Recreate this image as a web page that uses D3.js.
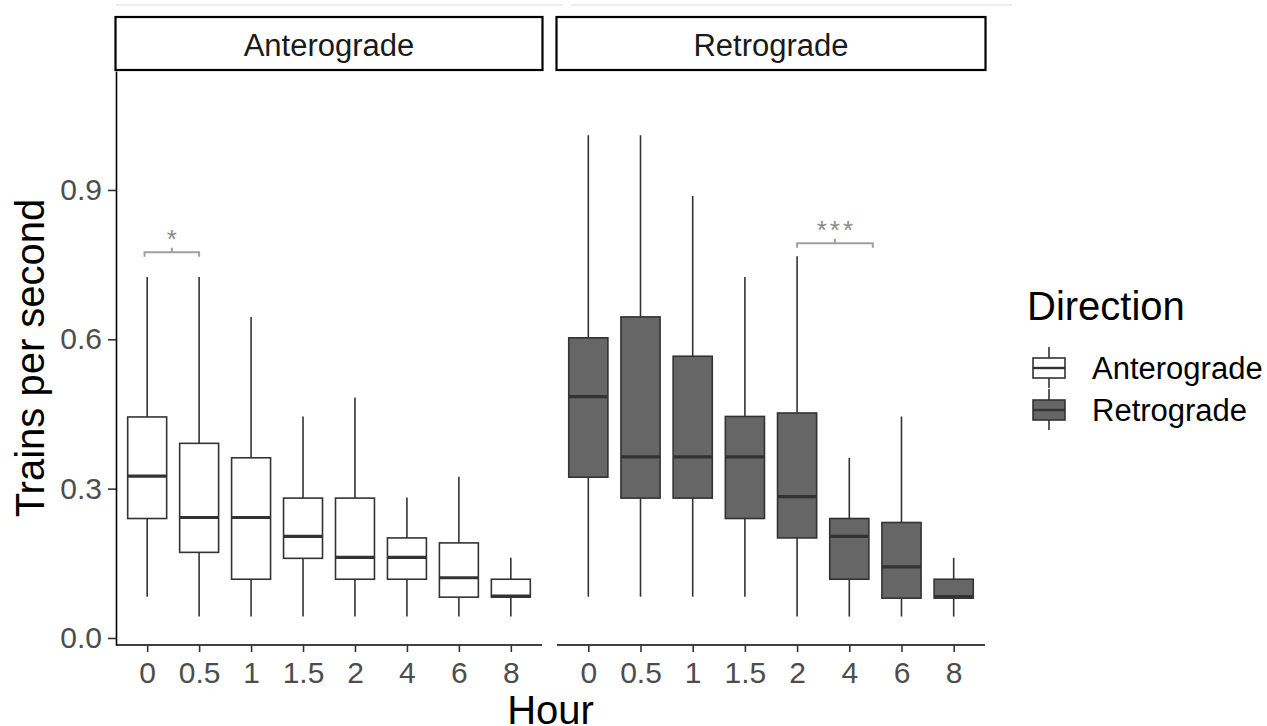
<!DOCTYPE html>
<html>
<head>
<meta charset="utf-8">
<script src="https://cdn.jsdelivr.net/npm/d3@7/dist/d3.min.js"></script>
<style>
  html, body { margin: 0; padding: 0; background: #fff; }
  svg { display: block; font-family: "Liberation Sans", Arial, sans-serif; }
</style>
</head>
<body>
<svg id="chart" width="1267" height="726"></svg>
<script>
// Hour categories and facet panels
const hours = ["0", "0.5", "1", "1.5", "2", "4", "6", "8"];
const directions = ["Anterograde", "Retrograde"];
const yTicks = [0, 0.3, 0.6, 0.9];

// Five-number summaries (trains per second), anterograde
const anteroLower  = [0.083, 0.043, 0.043, 0.043, 0.043, 0.043, 0.043, 0.043];
const anteroQ1     = [0.240, 0.172, 0.118, 0.160, 0.118, 0.118, 0.082, 0.082];
const anteroMedian = [0.325, 0.242, 0.242, 0.204, 0.162, 0.162, 0.121, 0.084];
const anteroQ3     = [0.444, 0.391, 0.362, 0.281, 0.281, 0.201, 0.191, 0.118];
const anteroUpper  = [0.725, 0.725, 0.645, 0.445, 0.483, 0.282, 0.324, 0.161];

// Five-number summaries, retrograde
const retroLower  = [0.083, 0.083, 0.083, 0.083, 0.043, 0.043, 0.043, 0.043];
const retroQ1     = [0.323, 0.281, 0.281, 0.240, 0.201, 0.118, 0.080, 0.080];
const retroMedian = [0.485, 0.364, 0.364, 0.364, 0.284, 0.204, 0.143, 0.083];
const retroQ3     = [0.603, 0.645, 0.566, 0.445, 0.452, 0.240, 0.232, 0.118];
const retroUpper  = [1.010, 1.010, 0.888, 0.725, 0.767, 0.362, 0.445, 0.161];

// Significance brackets (positions in category units)
const sigPanel = ["Anterograde", "Retrograde"];
const sigFrom  = [-0.05, 4];
const sigTo    = [1, 5.45];
const sigY     = [0.775, 0.793];
const sigLabel = ["*", "***"];

const fills = { Anterograde: "#ffffff", Retrograde: "#666666" };

const stats = {
  Anterograde: hours.map((h, i) => ({ hour: h, lo: anteroLower[i], q1: anteroQ1[i], med: anteroMedian[i], q3: anteroQ3[i], hi: anteroUpper[i] })),
  Retrograde:  hours.map((h, i) => ({ hour: h, lo: retroLower[i],  q1: retroQ1[i],  med: retroMedian[i],  q3: retroQ3[i],  hi: retroUpper[i] }))
};

const svg = d3.select("#chart");
svg.append("rect").attr("width", 1267).attr("height", 726).attr("fill", "#fff");

// faint rule along the top edge
svg.append("line").attr("x1", 116).attr("x2", 563).attr("y1", 5).attr("y2", 5)
  .attr("stroke", "#ececec").attr("stroke-width", 2);
svg.append("line").attr("x1", 571).attr("x2", 1012).attr("y1", 5).attr("y2", 5)
  .attr("stroke", "#ececec").attr("stroke-width", 2);

const panelTop = 71, panelBottom = 645;
const panels = [
  { dir: "Anterograde", x0: 116, x1: 542 },
  { dir: "Retrograde",  x0: 557, x1: 985 }
];

const y = d3.scaleLinear().domain([-0.0141, 1.139]).range([panelBottom, panelTop]);

const tickColor = "#4d4d4d";
const boxStroke = "#333333";
const tickFont = 30;

panels.forEach((p, pi) => {
  const x = d3.scalePoint().domain(hours).range([p.x0, p.x1]).padding(0.6);
  const step = x.step();
  const bw = step * 0.75;
  const g = svg.append("g");

  // strip
  g.append("rect")
    .attr("x", p.x0 - 0.5).attr("y", 17)
    .attr("width", p.x1 - p.x0 + 1).attr("height", 53)
    .attr("fill", "#fff").attr("stroke", "#000").attr("stroke-width", 2.2);
  g.append("text")
    .attr("x", (p.x0 + p.x1) / 2).attr("y", 56)
    .attr("text-anchor", "middle").attr("font-size", 31).attr("fill", "#1a1a1a")
    .text(p.dir);

  // boxes
  const data = stats[p.dir];
  const box = g.selectAll("g.box").data(data).join("g").attr("class", "box");
  box.append("line")
    .attr("x1", d => x(d.hour)).attr("x2", d => x(d.hour))
    .attr("y1", d => y(d.hi)).attr("y2", d => y(d.q3))
    .attr("stroke", boxStroke).attr("stroke-width", 1.6);
  box.append("line")
    .attr("x1", d => x(d.hour)).attr("x2", d => x(d.hour))
    .attr("y1", d => y(d.q1)).attr("y2", d => y(d.lo))
    .attr("stroke", boxStroke).attr("stroke-width", 1.6);
  box.append("rect")
    .attr("x", d => x(d.hour) - bw / 2).attr("width", bw)
    .attr("y", d => y(d.q3)).attr("height", d => y(d.q1) - y(d.q3))
    .attr("fill", fills[p.dir]).attr("stroke", boxStroke).attr("stroke-width", 1.6);
  box.append("line")
    .attr("x1", d => x(d.hour) - bw / 2).attr("x2", d => x(d.hour) + bw / 2)
    .attr("y1", d => y(d.med)).attr("y2", d => y(d.med))
    .attr("stroke", boxStroke).attr("stroke-width", 3.2);

  // x axis
  const xa = g.append("g").attr("transform", `translate(0,${panelBottom})`)
    .call(d3.axisBottom(x).tickSize(7).tickPadding(10).tickSizeOuter(0));
  xa.select(".domain").attr("stroke", "#000").attr("stroke-width", 1.6)
    .attr("d", `M${p.x0},0H${p.x1}`);
  xa.selectAll(".tick line").attr("stroke", boxStroke).attr("stroke-width", 1.6);
  xa.selectAll(".tick text").attr("font-size", tickFont).attr("fill", tickColor)
    .attr("font-family", "Liberation Sans, Arial, sans-serif");

  // y axis on the first panel only
  if (pi === 0) {
    const ya = g.append("g").attr("transform", `translate(${p.x0},0)`)
      .call(d3.axisLeft(y).tickValues(yTicks).tickFormat(d3.format(".1f")).tickSize(8).tickPadding(6).tickSizeOuter(0));
    ya.select(".domain").attr("stroke", "#000").attr("stroke-width", 1.6);
    ya.selectAll(".tick line").attr("stroke", boxStroke).attr("stroke-width", 1.6);
    ya.selectAll(".tick text").attr("font-size", tickFont).attr("fill", tickColor)
      .attr("font-family", "Liberation Sans, Arial, sans-serif");
  }

  // significance brackets in this panel
  const idx = (v) => p.x0 + step * 0.6 + v * step;
  sigPanel.forEach((sp, si) => {
    if (sp !== p.dir) return;
    const xa0 = idx(sigFrom[si]), xa1 = idx(sigTo[si]);
    const yb = y(sigY[si]);
    const drop = y(sigY[si] - 0.009) - yb;
    g.append("path")
      .attr("d", `M${xa0},${yb + drop}V${yb}H${xa1}V${yb + drop}M${(xa0 + xa1) / 2},${yb}V${yb - drop}`)
      .attr("fill", "none").attr("stroke", "#a0a0a0").attr("stroke-width", 2);
    g.append("text")
      .attr("x", (xa0 + xa1) / 2 + 1.5).attr("y", yb - 4)
      .attr("text-anchor", "middle").attr("font-size", 26).attr("fill", "#8a8a8a")
      .attr("letter-spacing", 3)
      .text(sigLabel[si]);
  });
});

// axis titles
svg.append("text")
  .attr("x", (116 + 985) / 2).attr("y", 724)
  .attr("text-anchor", "middle").attr("font-size", 40).attr("fill", "#000")
  .text("Hour");
svg.append("text")
  .attr("transform", `translate(44,${(panelTop + panelBottom) / 2}) rotate(-90)`)
  .attr("text-anchor", "middle").attr("font-size", 40).attr("fill", "#000")
  .text("Trains per second");

// legend
const lg = svg.append("g");
lg.append("text").attr("x", 1027).attr("y", 320).attr("font-size", 40).attr("fill", "#000").text("Direction");
directions.forEach((d, i) => {
  const cy = 368 + i * 42;
  const cx = 1049;
  lg.append("line").attr("x1", cx).attr("x2", cx).attr("y1", cy - 21).attr("y2", cy + 20)
    .attr("stroke", boxStroke).attr("stroke-width", 1.6);
  lg.append("rect").attr("x", cx - 16).attr("y", cy - 10).attr("width", 32).attr("height", 20)
    .attr("fill", fills[d]).attr("stroke", boxStroke).attr("stroke-width", 1.6);
  lg.append("line").attr("x1", cx - 16).attr("x2", cx + 16).attr("y1", cy).attr("y2", cy)
    .attr("stroke", boxStroke).attr("stroke-width", 2.4);
  lg.append("text").attr("x", 1092).attr("y", cy + 11).attr("font-size", 31).attr("fill", "#000").text(d);
});
</script>
</body>
</html>
